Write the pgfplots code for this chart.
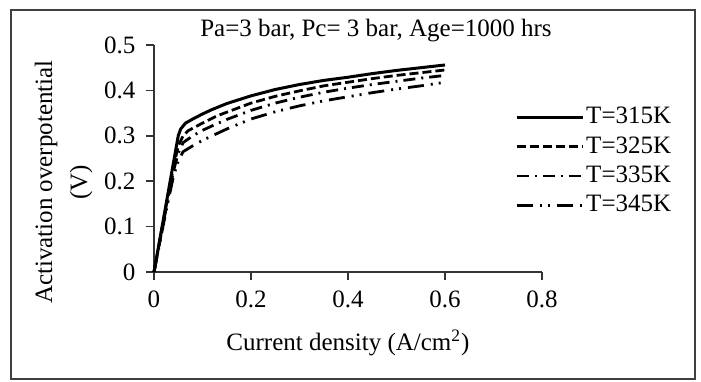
\documentclass[border=0pt]{standalone}
\usepackage{pgfplots}
\pgfplotsset{compat=1.18}
\usepackage{fontspec}
\setmainfont{Liberation Serif}
\begin{document}
\fontsize{12.5bp}{17.5bp}\selectfont
\begin{tikzpicture}
\path[use as bounding box] (-77bp,-55bp) rectangle (273.5bp,136bp);
\draw[line width=1bp, black!75] (-71.5bp,-53.5bp) rectangle (270.5bp,131bp);
\begin{axis}[
  at={(0,0)}, anchor=origin,
  scale only axis, width=194bp, height=113.5bp,
  xmin=0, xmax=0.8, ymin=0, ymax=0.5,
  axis lines=left, axis line style={-, line width=0.8bp, black!80},
  xtick={0,0.2,0.4,0.6,0.8}, ytick={0,0.1,0.2,0.3,0.4,0.5},
  xticklabels={0,0.2,0.4,0.6,0.8}, yticklabels={0,0.1,0.2,0.3,0.4,0.5},
  tick align=outside, major tick length=4bp,
  tick style={line width=0.8bp, black!80},
  /pgf/number format/assume math mode=true,
  tick label style={font=\fontsize{12.5bp}{15bp}\selectfont},
  xticklabel style={yshift=-1bp},
  yticklabel style={xshift=-1bp},
  xlabel={Current density (A/cm\textsuperscript{2})},
  xlabel style={at={(axis description cs:0.5,-0.3128)}, anchor=center, font=\fontsize{12.5bp}{15bp}\selectfont},
  ylabel={Activation overpotential\\(V)},
  ylabel style={at={(axis description cs:-0.2332,0.396)}, anchor=center, align=center, rotate=0, font=\fontsize{12.5bp}{17.5bp}\selectfont},
  clip=false,
  legend style={at={(axis description cs:0.93,0.745)}, anchor=north west, draw=none, fill=none,
    font=\fontsize{12.5bp}{15bp}\selectfont, row sep=0.5bp, inner sep=0pt,
    nodes={inner xsep=1bp, inner ysep=2bp}},
  legend cell align=left,
  legend image code/.code={\draw[#1] (0bp,0bp) -- (33bp,0bp);},
]
\addplot[black, line width=1.5bp] coordinates {
(0,0) (0.01,0.06) (0.02,0.12) (0.03,0.18) (0.04,0.24) (0.05,0.30) (0.055,0.315) (0.065,0.328) (0.08,0.337) (0.1,0.348) (0.12,0.358) (0.15,0.371) (0.2,0.388) (0.25,0.402) (0.3,0.413) (0.35,0.422) (0.4,0.429) (0.45,0.437) (0.5,0.444) (0.55,0.450) (0.6,0.456)};
\addlegendentry{T=315K}
\addplot[black, line width=1.4bp, dash pattern=on 4.5bp off 2bp] coordinates {
(0,0) (0.01,0.058) (0.02,0.116) (0.03,0.174) (0.04,0.230) (0.05,0.278) (0.06,0.300) (0.07,0.311) (0.1,0.328) (0.13,0.344) (0.15,0.352) (0.2,0.372) (0.25,0.387) (0.3,0.399) (0.35,0.410) (0.4,0.418) (0.45,0.426) (0.5,0.433) (0.55,0.439) (0.6,0.445)};
\addlegendentry{T=325K}
\addplot[black, line width=1.4bp, dash pattern=on 6bp off 3bp on 1bp off 3bp] coordinates {
(0,0) (0.01,0.056) (0.02,0.112) (0.03,0.168) (0.04,0.222) (0.05,0.262) (0.06,0.285) (0.08,0.300) (0.1,0.312) (0.12,0.322) (0.15,0.336) (0.2,0.356) (0.25,0.372) (0.3,0.385) (0.35,0.396) (0.4,0.405) (0.45,0.413) (0.5,0.420) (0.55,0.427) (0.6,0.433)};
\addlegendentry{T=335K}
\addplot[black, line width=1.4bp, dash pattern=on 8bp off 3.5bp on 1bp off 3bp on 1bp off 3.5bp] coordinates {
(0,0) (0.01,0.054) (0.02,0.108) (0.03,0.160) (0.04,0.210) (0.05,0.245) (0.06,0.265) (0.08,0.278) (0.1,0.290) (0.12,0.300) (0.15,0.315) (0.2,0.337) (0.25,0.353) (0.3,0.366) (0.35,0.377) (0.4,0.386) (0.45,0.395) (0.5,0.403) (0.55,0.410) (0.6,0.418)};
\addlegendentry{T=345K}
\end{axis}
\node[font=\fontsize{12.5bp}{15bp}\selectfont] at (111bp,120.5bp) {Pa=3 bar, Pc= 3 bar, Age=1000 hrs};
\end{tikzpicture}
\end{document}
